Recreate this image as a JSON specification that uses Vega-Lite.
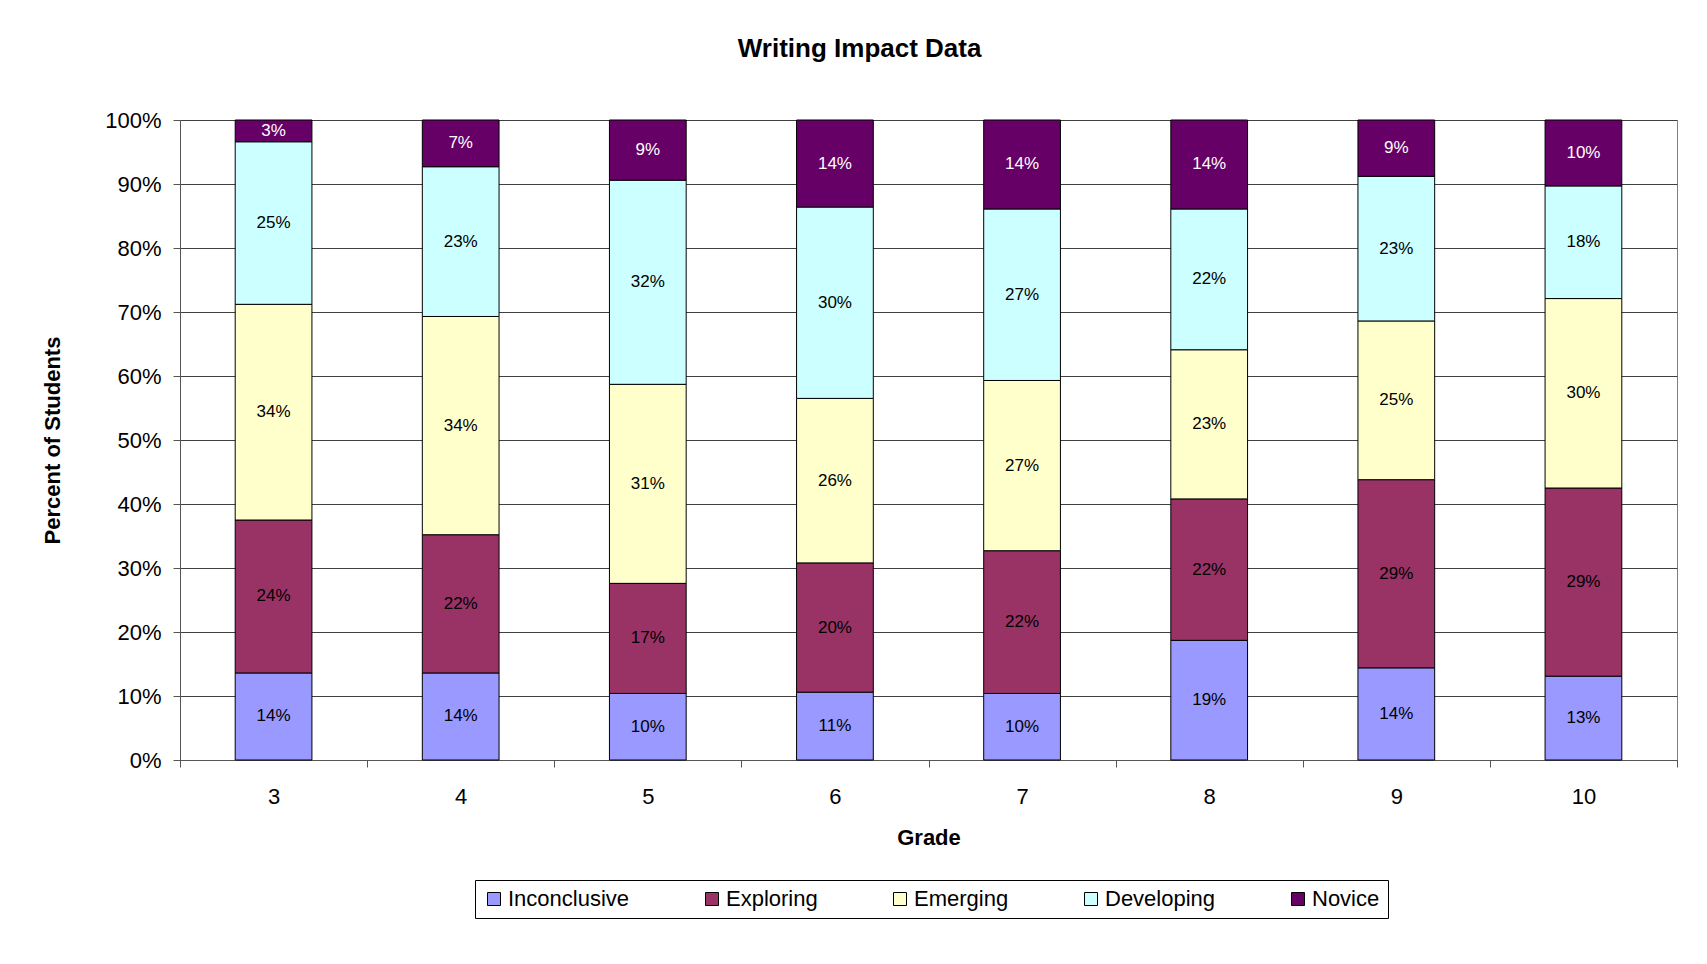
{
  "$schema": "https://vega.github.io/schema/vega-lite/v6.json",
  "width": 1497,
  "height": 640,
  "autosize": {"type": "none"},
  "padding": {"left": 180, "top": 120, "right": 30, "bottom": 204},
  "background": "white",
  "config": {
    "font": "Liberation Sans",
    "view": {"stroke": "#808080", "strokeWidth": 1},
    "axis": {"labelColor": "black", "titleColor": "black", "labelFont": "Liberation Sans", "titleFont": "Liberation Sans"}
  },
  "title": {
    "text": "Writing Impact Data",
    "font": "Liberation Sans",
    "fontSize": 26,
    "fontWeight": "bold",
    "color": "black",
    "anchor": "middle",
    "frame": "bounds",
    "baseline": "alphabetic",
    "offset": 26
  },
  "data": {
    "values": [
      {"grade": 3, "level": "Inconclusive", "rank": 1, "share": 0.136},
      {"grade": 3, "level": "Exploring", "rank": 2, "share": 0.239},
      {"grade": 3, "level": "Emerging", "rank": 3, "share": 0.337},
      {"grade": 3, "level": "Developing", "rank": 4, "share": 0.254},
      {"grade": 3, "level": "Novice", "rank": 5, "share": 0.034},
      {"grade": 4, "level": "Inconclusive", "rank": 1, "share": 0.136},
      {"grade": 4, "level": "Exploring", "rank": 2, "share": 0.216},
      {"grade": 4, "level": "Emerging", "rank": 3, "share": 0.341},
      {"grade": 4, "level": "Developing", "rank": 4, "share": 0.234},
      {"grade": 4, "level": "Novice", "rank": 5, "share": 0.073},
      {"grade": 5, "level": "Inconclusive", "rank": 1, "share": 0.104},
      {"grade": 5, "level": "Exploring", "rank": 2, "share": 0.172},
      {"grade": 5, "level": "Emerging", "rank": 3, "share": 0.311},
      {"grade": 5, "level": "Developing", "rank": 4, "share": 0.319},
      {"grade": 5, "level": "Novice", "rank": 5, "share": 0.094},
      {"grade": 6, "level": "Inconclusive", "rank": 1, "share": 0.106},
      {"grade": 6, "level": "Exploring", "rank": 2, "share": 0.202},
      {"grade": 6, "level": "Emerging", "rank": 3, "share": 0.257},
      {"grade": 6, "level": "Developing", "rank": 4, "share": 0.299},
      {"grade": 6, "level": "Novice", "rank": 5, "share": 0.136},
      {"grade": 7, "level": "Inconclusive", "rank": 1, "share": 0.104},
      {"grade": 7, "level": "Exploring", "rank": 2, "share": 0.223},
      {"grade": 7, "level": "Emerging", "rank": 3, "share": 0.266},
      {"grade": 7, "level": "Developing", "rank": 4, "share": 0.268},
      {"grade": 7, "level": "Novice", "rank": 5, "share": 0.139},
      {"grade": 8, "level": "Inconclusive", "rank": 1, "share": 0.187},
      {"grade": 8, "level": "Exploring", "rank": 2, "share": 0.221},
      {"grade": 8, "level": "Emerging", "rank": 3, "share": 0.233},
      {"grade": 8, "level": "Developing", "rank": 4, "share": 0.220},
      {"grade": 8, "level": "Novice", "rank": 5, "share": 0.139},
      {"grade": 9, "level": "Inconclusive", "rank": 1, "share": 0.144},
      {"grade": 9, "level": "Exploring", "rank": 2, "share": 0.294},
      {"grade": 9, "level": "Emerging", "rank": 3, "share": 0.248},
      {"grade": 9, "level": "Developing", "rank": 4, "share": 0.226},
      {"grade": 9, "level": "Novice", "rank": 5, "share": 0.088},
      {"grade": 10, "level": "Inconclusive", "rank": 1, "share": 0.131},
      {"grade": 10, "level": "Exploring", "rank": 2, "share": 0.294},
      {"grade": 10, "level": "Emerging", "rank": 3, "share": 0.296},
      {"grade": 10, "level": "Developing", "rank": 4, "share": 0.176},
      {"grade": 10, "level": "Novice", "rank": 5, "share": 0.103}
    ]
  },
  "encoding": {
    "x": {
      "field": "grade",
      "type": "ordinal",
      "scale": {"paddingInner": 0, "paddingOuter": 0},
      "axis": {
        "title": "Grade",
        "titleFontSize": 22,
        "titleFontWeight": "bold",
        "titlePadding": 20,
        "labelAngle": 0,
        "labelFontSize": 22,
        "labelPadding": 19,
        "tickBand": "extent",
        "tickSize": 7,
        "tickColor": "#555555",
        "domainColor": "#555555",
        "grid": false
      }
    },
    "order": {"field": "rank", "type": "quantitative"}
  },
  "layer": [
    {
      "mark": {"type": "bar", "width": {"band": 0.41}, "stroke": "black", "strokeWidth": 1},
      "encoding": {
        "y": {
          "field": "share",
          "type": "quantitative",
          "stack": "zero",
          "scale": {"domain": [0, 1], "nice": false},
          "axis": {
            "title": "Percent of Students",
            "titleFontSize": 22,
            "titleFontWeight": "bold",
            "titlePadding": 40,
            "values": [0, 0.1, 0.2, 0.3, 0.4, 0.5, 0.6, 0.7, 0.8, 0.9, 1],
            "format": ".0%",
            "labelFontSize": 22,
            "labelPadding": 12,
            "tickSize": 7,
            "tickColor": "#555555",
            "domainColor": "#555555",
            "grid": true,
            "gridColor": "#404040",
            "gridOpacity": 1
          }
        },
        "color": {
          "field": "level",
          "type": "nominal",
          "scale": {
            "domain": ["Inconclusive", "Exploring", "Emerging", "Developing", "Novice"],
            "range": ["#9999FF", "#993366", "#FFFFCC", "#CCFFFF", "#660066"]
          },
          "legend": {
            "title": null,
            "orient": "none",
            "legendX": 295,
            "legendY": 760,
            "direction": "horizontal",
            "symbolType": "square",
            "symbolSize": 169,
            "symbolStrokeColor": "black",
            "symbolStrokeWidth": 1,
            "symbolOpacity": 1,
            "labelFontSize": 22,
            "labelColor": "black",
            "labelFont": "Liberation Sans",
            "labelOffset": 3,
            "columnPadding": 71,
            "padding": 8,
            "strokeColor": "black",
            "fillColor": "white"
          }
        }
      }
    },
    {
      "mark": {"type": "text", "fontSize": 17, "font": "Liberation Sans", "baseline": "middle", "align": "center"},
      "encoding": {
        "y": {"field": "share", "type": "quantitative", "stack": "zero", "bandPosition": 0.5},
        "detail": {"field": "level"},
        "text": {"field": "share", "type": "quantitative", "format": ".0%"},
        "color": {"condition": {"test": "datum.level === 'Novice'", "value": "white"}, "value": "black"}
      }
    }
  ]
}
